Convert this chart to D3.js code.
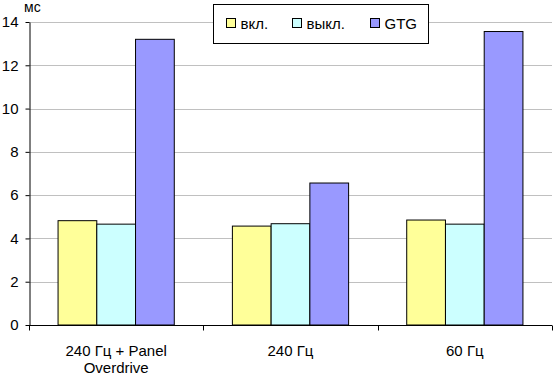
<!DOCTYPE html>
<html>
<head>
<meta charset="utf-8">
<script src="https://cdn.jsdelivr.net/npm/d3@7"></script>
<style>
  body { margin: 0; background: #fff; }
  text { font-family: "Liberation Sans", Arial, sans-serif; fill: #000; }
</style>
</head>
<body>
<div id="chart"></div>
<script>
const categories = [["240 Гц + Panel", "Overdrive"], ["240 Гц"], ["60 Гц"]];
const seriesNames = ["вкл.", "выкл.", "GTG"];
const seriesColors = ["#FFFF99", "#CCFFFF", "#9999FF"];
const valsOn = [4.82, 4.57, 4.85];
const valsOff = [4.66, 4.68, 4.66];
const valsGTG = [13.2, 6.56, 13.56];
const yTicks = [0, 2, 4, 6, 8, 10, 12, 14];
const unitLabel = "мс";

const W = 553, H = 374;
const margin = {top: 22, right: 1, bottom: 49, left: 29};
const width = W - margin.left - margin.right;
const height = H - margin.top - margin.bottom;
const series = [valsOn, valsOff, valsGTG];

const svg = d3.select("#chart").append("svg")
    .attr("width", W)
    .attr("height", H);
const g = svg.append("g")
    .attr("transform", "translate(" + margin.left + "," + margin.top + ")");

const x = d3.scaleBand()
    .domain(d3.range(categories.length))
    .range([0, width])
    .paddingInner(0)
    .paddingOuter(0);
const y = d3.scaleLinear().domain([0, 14]).range([height, 0]);

// gridlines
g.selectAll(".grid").data(yTicks.slice(1)).enter().append("line")
    .attr("x1", 0).attr("x2", width)
    .attr("y1", d => Math.round(y(d)) + 0.5).attr("y2", d => Math.round(y(d)) + 0.5)
    .attr("stroke", "#C0C0C0").attr("stroke-width", 1);

// bars: group takes 1 / (1 + 0.5) of the band (gap width 150%)
const groupW = x.bandwidth() * 3 / 4.5;
const barW = groupW / 3;
categories.forEach(function (c, i) {
    const x0 = x(i) + (x.bandwidth() - groupW) / 2;
    series.forEach(function (vals, s) {
        g.append("rect")
            .attr("x", x0 + s * barW)
            .attr("y", y(vals[i]))
            .attr("width", barW)
            .attr("height", height - y(vals[i]))
            .attr("fill", seriesColors[s])
            .attr("stroke", "#000")
            .attr("stroke-width", 1);
    });
});

// y axis
const yAxis = g.append("g")
    .attr("transform", "translate(0.5,0)")
    .call(d3.axisLeft(y).tickValues(yTicks).tickSize(4).tickPadding(7).tickSizeOuter(0));
yAxis.selectAll("text").style("font-size", "15px");
yAxis.select(".domain").attr("stroke", "#000");

// x axis
const xAxis = g.append("g")
    .attr("transform", "translate(0," + (Math.round(height) + 0.5) + ")");
xAxis.append("line").attr("x1", 0).attr("x2", width).attr("stroke", "#000");
xAxis.selectAll(".tk").data(d3.range(categories.length + 1)).enter().append("line")
    .attr("x1", d => Math.round(d * x.bandwidth()) + 0.5)
    .attr("x2", d => Math.round(d * x.bandwidth()) + 0.5)
    .attr("y1", 0).attr("y2", 5).attr("stroke", "#000");
categories.forEach(function (lines, i) {
    const t = xAxis.append("text")
        .attr("text-anchor", "middle")
        .attr("x", x(i) + x.bandwidth() / 2)
        .attr("y", 30)
        .style("font-size", "15px");
    lines.forEach(function (l, k) {
        t.append("tspan").attr("x", x(i) + x.bandwidth() / 2).attr("dy", k === 0 ? 0 : 17).text(l);
    });
});

// unit label
svg.append("text").attr("x", 24).attr("y", 12).style("font-size", "14px").text(unitLabel);

// legend
const lg = svg.append("g").attr("transform", "translate(213.5,4.5)");
lg.append("rect").attr("width", 215).attr("height", 39)
    .attr("fill", "#fff").attr("stroke", "#000").attr("stroke-width", 1);
const legendX = [13, 79, 157];
seriesNames.forEach(function (n, s) {
    lg.append("rect").attr("x", legendX[s]).attr("y", 14).attr("width", 9).attr("height", 9)
        .attr("fill", seriesColors[s]).attr("stroke", "#000");
    lg.append("text").attr("x", legendX[s] + 14).attr("y", 24).style("font-size", "15px").text(n);
});
</script>
</body>
</html>
